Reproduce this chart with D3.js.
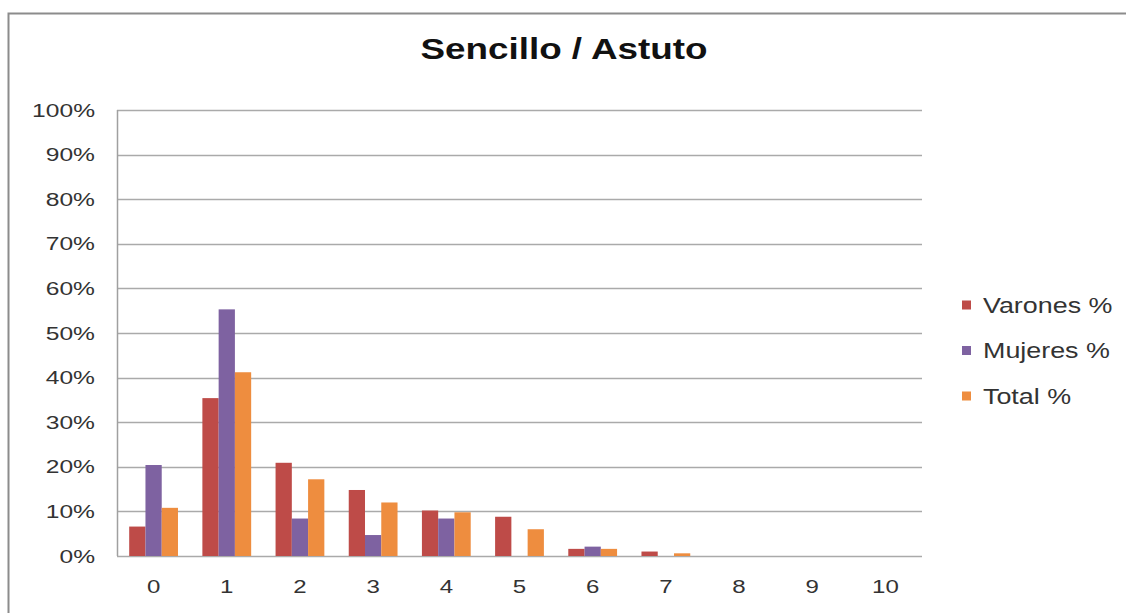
<!DOCTYPE html>
<html>
<head>
<meta charset="utf-8">
<script src="https://cdn.jsdelivr.net/npm/d3@7"></script>
<style>
  html, body { margin: 0; padding: 0; background: #fff; }
  svg { display: block; font-family: "Liberation Sans", Arial, sans-serif; }
</style>
</head>
<body>
<svg id="chart" width="1126" height="613"></svg>
<script>
// Respuestas por puntuación (0–10), porcentaje por grupo
const categories = ["0", "1", "2", "3", "4", "5", "6", "7", "8", "9", "10"];
const varones = [6.6, 35.4, 20.9, 14.8, 10.2, 8.8, 1.6, 1.0, 0, 0, 0];
const mujeres = [20.4, 55.3, 8.4, 4.7, 8.4, 0, 2.1, 0, 0, 0, 0];
const total   = [10.8, 41.2, 17.2, 12.0, 9.8, 6.0, 1.6, 0.6, 0, 0, 0];
const seriesNames = ["Varones %", "Mujeres %", "Total %"];
const yTicks = [0, 10, 20, 30, 40, 50, 60, 70, 80, 90, 100];
const title = "Sencillo / Astuto";

const colors = ["#BE4B48", "#7E62A1", "#EE8D3F"];
const seriesValues = [varones, mujeres, total];

const svg = d3.select("#chart");
const plot = { left: 117, right: 922, top: 110, bottom: 556 };

// outer frame
svg.append("rect")
  .attr("x", 8.5).attr("y", 13.5)
  .attr("width", 1140).attr("height", 640)
  .attr("fill", "#fff")
  .attr("stroke", "#8c8c8c").attr("stroke-width", 2);

const x = d3.scaleBand().domain(categories).range([plot.left, plot.right]).paddingInner(0).paddingOuter(0);
// bars fill 3 of 4.5 bar-widths per category (gap width 150%)
const xs = d3.scaleBand().domain(seriesNames)
  .range([0, x.bandwidth()]).paddingOuter(0.75).paddingInner(0);
const y = d3.scaleLinear().domain([0, 100]).range([plot.bottom, plot.top]);

// horizontal gridlines
svg.append("g")
  .selectAll("line")
  .data(yTicks)
  .join("line")
  .attr("x1", plot.left).attr("x2", plot.right)
  .attr("y1", d => Math.round(y(d)) + 0.5).attr("y2", d => Math.round(y(d)) + 0.5)
  .attr("stroke", "#aaaaaa").attr("stroke-width", 1.5);

// vertical axis line
svg.append("line")
  .attr("x1", plot.left + 0.5).attr("x2", plot.left + 0.5)
  .attr("y1", plot.top).attr("y2", plot.bottom)
  .attr("stroke", "#a0a0a0").attr("stroke-width", 1.5);

// bars
const groups = svg.append("g")
  .selectAll("g")
  .data(seriesNames)
  .join("g")
  .attr("fill", (d, i) => colors[i]);

groups.selectAll("rect")
  .data((name, i) => categories.map((c, j) => ({ c, name, v: seriesValues[i][j] })))
  .join("rect")
  .attr("x", d => x(d.c) + xs(d.name))
  .attr("width", xs.bandwidth())
  .attr("y", d => y(d.v))
  .attr("height", d => y(0) - y(d.v));

// y axis labels
svg.append("g")
  .selectAll("text")
  .data(yTicks)
  .join("text")
  .attr("transform", d => `translate(95,${y(d) + 6.5}) scale(1.33,1)`)
  .attr("text-anchor", "end")
  .attr("font-size", 18.5)
  .attr("fill", "#333")
  .text(d => d + "%");

// x axis labels
svg.append("g")
  .selectAll("text")
  .data(categories)
  .join("text")
  .attr("transform", d => `translate(${x(d) + x.bandwidth() / 2},${593}) scale(1.3,1)`)
  .attr("text-anchor", "middle")
  .attr("font-size", 18.5)
  .attr("fill", "#333")
  .text(d => d);

// title
svg.append("text")
  .attr("transform", "translate(564,59) scale(1.27,1)")
  .attr("text-anchor", "middle")
  .attr("font-size", 29)
  .attr("font-weight", "bold")
  .attr("fill", "#111")
  .text(title);

// legend
const legend = svg.append("g")
  .selectAll("g")
  .data(seriesNames)
  .join("g")
  .attr("transform", (d, i) => `translate(962,${305 + i * 45.5})`);

legend.append("rect")
  .attr("x", 0).attr("y", -4.5)
  .attr("width", 9).attr("height", 9)
  .attr("fill", (d, i) => colors[i]);

legend.append("text")
  .attr("transform", "translate(21,7.5) scale(1.25,1)")
  .attr("font-size", 21.5)
  .attr("fill", "#333")
  .text(d => d);
</script>
</body>
</html>
